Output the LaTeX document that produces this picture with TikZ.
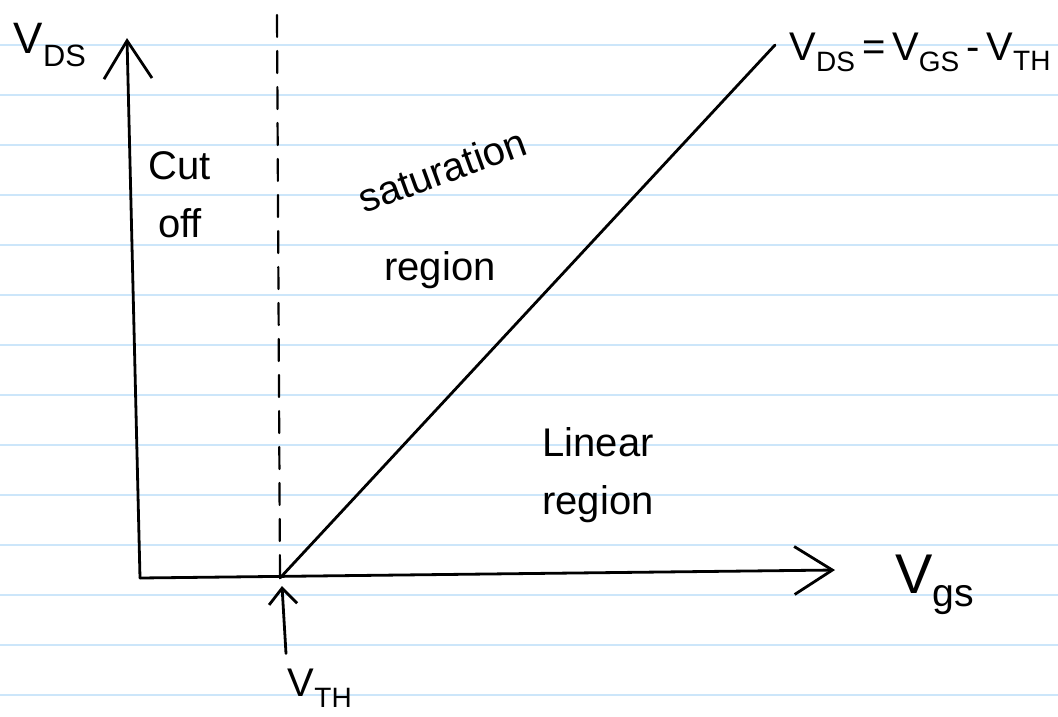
\documentclass[tikz,border=0pt]{standalone}
\usepackage{fontspec}
\setmainfont{Liberation Sans}
\usetikzlibrary{arrows.meta}
\definecolor{ruleblue}{RGB}{204,230,250}

\begin{document}
\begin{tikzpicture}[x=1pt, y=-1pt, line width=2.8pt, line cap=round,
    axis/.style={-{Straight Barb[length=38pt,width=48pt]}},
    pointer/.style={-{Straight Barb[length=16pt,width=28pt]}},
    ruled/.style={draw=ruleblue, line width=1.2pt},
    lbl/.style={font=\fontsize{40}{58}\selectfont, align=center, inner sep=0pt}]

    \useasboundingbox[fill=white] (0,0) rectangle (1058,716);

    % ruled paper
    \foreach \k in {0,...,13} {
        \draw[ruled] (0,{45+50*\k}) -- (1058,{45+50*\k});
    }

    % axes
    \coordinate (O) at (140,578);
    \coordinate (ytip) at (127,38);
    \coordinate (xtip) at (835,570);
    \draw[axis] (O) -- (ytip);
    \draw[axis] (O) -- (xtip);

    % threshold
    \coordinate (vth) at (280,578);
    \coordinate (vthtop) at (277,15);
    \draw[dash pattern=on 22pt off 14pt, line width=2.2pt] (vthtop) -- (vth);
    \coordinate (diagend) at (775,45);
    \draw (vth) -- (diagend);

    % labels
    \node[lbl, font=\fontsize{44}{50}\selectfont] (vds) at (50,45) {V\textsubscript{DS}};
    \node[lbl, right] (satline) at (788,52) {V\textsubscript{DS}\,=\,V\textsubscript{GS}\,-\,V\textsubscript{TH}};
    \node[lbl] (cutoff) at (180,195) {Cut\\off};
    \node[lbl, rotate=20] (sat) at (442,170) {saturation};
    \node[lbl] (satreg) at (440,270) {region};
    \node[lbl] (linear) at (598,475) {Linear\\region};
    \node[lbl, font=\fontsize{56}{60}\selectfont] (vgs) at (935,585) {V\textsubscript{gs}};
    \node[lbl] (vthlbl) at (320,688) {V\textsubscript{TH}};
    \draw[pointer] (vthlbl.north -| 286,0) ++(0,-14) coordinate (ptail) -- (282,586) coordinate (phead);

\end{tikzpicture}
\end{document}
